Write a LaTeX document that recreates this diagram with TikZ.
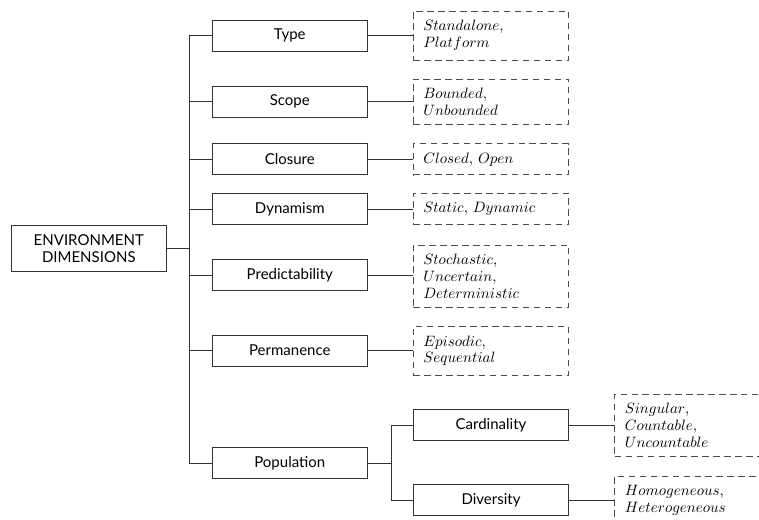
\documentclass[tikz,border=0pt]{standalone}
\usepackage{fontspec}
\newfontfamily\boxfont{Lato}
\begin{document}
\begin{tikzpicture}[x=0.6667pt,y=-0.6667pt,
  line width=0.6pt,
  dimbox/.style={draw=black!80,rectangle,minimum width=103.8pt,minimum height=20.7pt,
    inner sep=0pt,font=\boxfont\fontsize{10}{11.6}\selectfont,align=center},
  valbox/.style={draw=black!70,dash pattern=on 4.3pt off 3pt,rectangle,
    text width=90.3pt,inner xsep=6.67pt,inner ysep=0pt,align=left,
    font=\fontsize{10}{11.2}\selectfont},
  link/.style={draw=black!80}]
  \useasboundingbox (0,0) rectangle (759,520);
  \clip (0,0) rectangle (759,520);

  % root
  \node[dimbox,minimum height=30.5pt] (root) at (88.8,248.8) {ENVIRONMENT\\DIMENSIONS};

  % dimensions
  \node[dimbox] (type)  at (289.8,35.5)  {Type};
  \node[dimbox] (scope) at (289.8,101.5) {Scope};
  \node[dimbox] (clos)  at (289.8,159)   {Closure};
  \node[dimbox] (dyn)   at (289.8,209)   {Dynamism};
  \node[dimbox] (pred)  at (289.8,275)   {Predictability};
  \node[dimbox] (perm)  at (289.8,350.5) {Permanence};
  \node[dimbox] (pop)   at (289.8,463)   {Population};
  \node[dimbox] (card)  at (491,425.3)   {Cardinality};
  \node[dimbox] (div)   at (491,500)     {Diversity};

  % values
  \node[valbox,minimum height=32.7pt] (typeV)  at (491,35.5)  {$Standalone$,\\$Platform$};
  \node[valbox,minimum height=30pt]   (scopeV) at (491,101.5) {$Bounded$,\\$Unbounded$};
  \node[valbox,minimum height=20.5pt] (closV)  at (491,159.3) {$Closed$, $Open$};
  \node[valbox,minimum height=20.9pt] (dynV)   at (491,209)   {$Static$, $Dynamic$};
  \node[valbox,minimum height=41.3pt] (predV)  at (491,276)   {$Stochastic$,\\$Uncertain$,\\$Deterministic$};
  \node[valbox,minimum height=32.2pt] (permV)  at (491,350.8) {$Episodic$,\\$Sequential$};
  \node[valbox,minimum height=41.8pt] (cardV)  at (692.5,425.3) {$Singular$,\\$Countable$,\\$Uncountable$};
  \node[valbox,minimum height=32.7pt] (divV)   at (692.5,500.5) {$Homogeneous$,\\$Heterogeneous$};

  % trunk from the root to the dimensions
  \coordinate (trunk) at (189,248.8);
  \draw[link] (root.east) -- (trunk);
  \draw[link] (trunk |- type.west) -- (trunk |- pop.west);
  \foreach \n in {type,scope,clos,dyn,pred,perm,pop}
    \draw[link] (trunk |- \n.west) -- (\n.west);

  % sub-branch of Population
  \coordinate (sub) at (391,463);
  \draw[link] (pop.east) -- (sub);
  \draw[link] (sub |- card.west) -- (sub |- div.west);
  \foreach \n in {card,div}
    \draw[link] (sub |- \n.west) -- (\n.west);

  % dimensions to their values
  \foreach \n in {type,scope,clos,dyn,pred,perm,card,div}
    \draw[link] (\n.east) -- (\n.east -| \n V.west);
\end{tikzpicture}
\end{document}
